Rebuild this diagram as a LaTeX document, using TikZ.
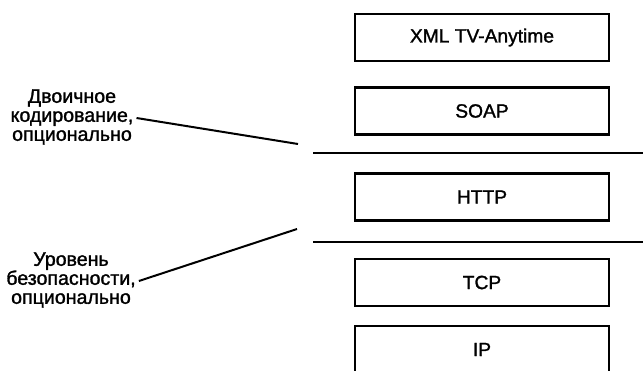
\documentclass[tikz,border=0pt]{standalone}
\usepackage{fontspec}
\setmainfont{Liberation Sans}[FakeBold=1.4]
\begin{document}
\begin{tikzpicture}[x=1pt,y=-1pt,
  layer/.style={draw,line width=2.6pt,minimum width=254pt,minimum height=47pt,inner sep=0pt,font=\fontsize{19.2}{21}\selectfont},
  lbl/.style={align=center,inner sep=0pt,font=\fontsize{19.6}{19}\selectfont},
  sep/.style={line width=2.8pt},
  lead/.style={line width=2pt}]
\useasboundingbox (0,0) rectangle (643,370);
\clip (0,0) rectangle (643,370);
\node[layer] (xml) at (482,37.5) {XML TV-Anytime};
\node[layer] (soap) at (482,111) {SOAP};
\node[layer] (http) at (482,197) {HTTP};
\node[layer] (tcp) at (482,282.5) {TCP};
\node[layer] (ip) at (482,349.5) {IP};
\coordinate (s1a) at (313,153);
\coordinate (s1b) at (643,153);
\coordinate (s2a) at (313,242);
\coordinate (s2b) at (643,242);
\draw[sep] (s1a) -- (s1b);
\draw[sep] (s2a) -- (s2b);
\node[lbl] (lab1) at (72,117) {Двоичное\\кодирование,\\опционально};
\node[lbl] (lab2) at (71,280) {Уровень\\безопасности,\\опционально};
\coordinate (e1) at (298,144);
\coordinate (e2) at (297,229);
\draw[lead] ([xshift=3pt,yshift=-1pt]lab1.east) -- (e1);
\draw[lead] ([xshift=3pt,yshift=-1pt]lab2.east) -- (e2);
\end{tikzpicture}
\end{document}
